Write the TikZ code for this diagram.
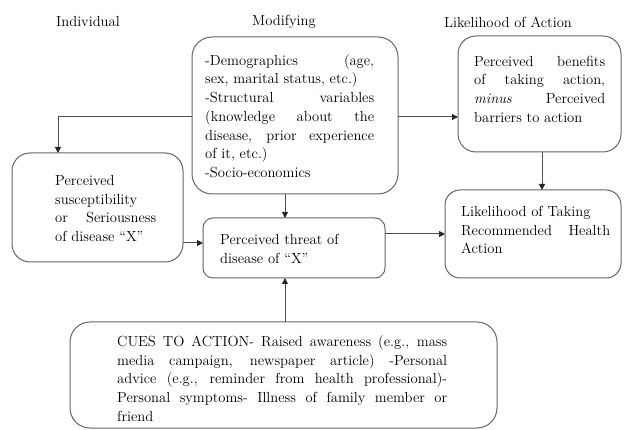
\documentclass[tikz,border=0pt]{standalone}
\usepackage{fontspec}
\usetikzlibrary{arrows.meta,calc}
\hbadness=10000
\tolerance=10000
\definecolor{boxgray}{HTML}{666666}
\definecolor{linegray}{HTML}{505050}
\begin{document}
\begin{tikzpicture}[x=1pt,y=-1pt,
  box/.style={draw=boxgray, line width=1pt, rounded corners=#1, inner sep=0pt, outer sep=0pt},
  box/.default=18pt,
  txt/.style={inner sep=0pt, align=justify, anchor=west, font=\rmfamily\fontsize{14.6}{18.7}\selectfont},
  head/.style={inner sep=0pt, font=\rmfamily\fontsize{14.6}{18.7}\selectfont},
  arr/.style={draw=linegray, line width=1pt, -{Triangle[length=6pt,width=6pt,color=black!85]}}
]
\useasboundingbox (0,0) rectangle (624,430);

% headings
\node[head] (h1) at (88,22) {Individual};
\node[head] (h2) at (284,22) {Modifying};
\node[head] (h3) at (508,22) {Likelihood of Action};

% boxes
\node[box=20pt, minimum width=206pt, minimum height=157pt] (mod) at (295,115.5) {};
\node[box=18pt, minimum width=163pt, minimum height=116pt] (ben) at (539.5,94) {};
\node[box=15pt, minimum width=176pt, minimum height=88pt] (lik) at (533,234) {};
\node[box=18pt, minimum width=171pt, minimum height=109pt] (sus) at (97.5,207.5) {};
\node[box=10pt, minimum width=182pt, minimum height=60pt] (thr) at (294,248) {};
\node[box=20pt, minimum width=427pt, minimum height=106pt] (cue) at (283.5,375) {};

% texts
\node[txt, text width=169pt] (modt) at (205,116) {-Demographics (age,\linebreak
sex, marital status, etc.)\\
-Structural variables\linebreak
(knowledge about the\linebreak
disease, prior experience\linebreak
of it, etc.)\\
-Socio-economics};
\node[txt, text width=131pt] (bent) at (474,89) {Perceived benefits\linebreak
of taking action,\linebreak
\textit{minus} Perceived\linebreak
barriers to action};
\node[txt, text width=149pt] (likt) at (461,230) {Likelihood of Taking\\
Recommended Health\linebreak
Action};
\node[txt, text width=101pt] (sust) at (55,208.5) {Perceived\\
susceptibility\\
or Seriousness\linebreak
of disease “X”};
\node[txt, text width=140pt] (thrt) at (220,249) {Perceived threat of\\
disease of “X”};
\node[txt, text width=330pt] (cuet) at (117,378.5) {CUES TO ACTION- Raised awareness (e.g., mass\linebreak
media campaign, newspaper article) -Personal\linebreak
advice (e.g., reminder from health professional)-\linebreak
Personal symptoms- Illness of family member or\linebreak
friend};

% connectors
\coordinate (modl) at ([yshift=-1.5pt]mod.west);
\coordinate (susin) at ([xshift=46pt]sus.north west);
\draw[arr] (modl) -| (susin);
\draw[arr] (modl -| mod.east) -- (modl -| ben.west);
\coordinate (modb) at ([xshift=-10pt]mod.south);
\draw[arr] (modb) -- (modb |- thr.north);
\coordinate (thrin) at ([yshift=5pt]thr.west);
\draw[arr] (thrin -| sus.east) -- (thrin);
\draw[arr] (lik.west -| thr.east) -- (lik.west);
\coordinate (benb) at ([xshift=2.5pt]ben.south);
\draw[arr] (benb) -- (benb |- lik.north);
\draw[arr] (modb |- cue.north) -- (modb |- thr.south);
\end{tikzpicture}
\end{document}
